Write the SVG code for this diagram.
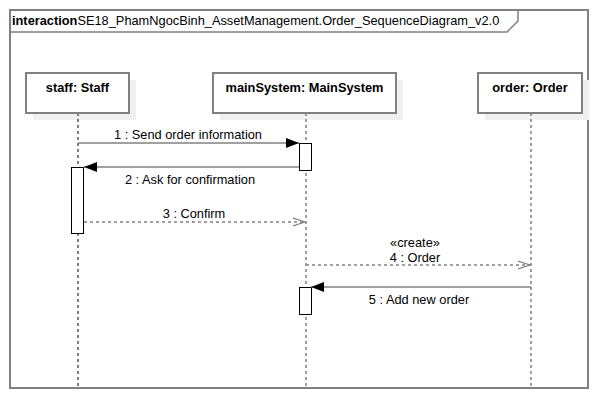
<svg xmlns="http://www.w3.org/2000/svg" width="599" height="400" viewBox="0 0 599 400">
<style>
text{font-family:"Liberation Sans",Arial,sans-serif;font-size:12.8px;fill:#000}
.b{font-weight:bold}
.box{fill:#fff;stroke:#808080;stroke-width:2}
.sh{fill:#f0f0f0}
.act{fill:#fff;stroke:#000;stroke-width:1}
.ll{stroke:#808080;stroke-width:1.5;stroke-dasharray:3,3}
.msg{stroke:#808080;stroke-width:1.5;fill:none}
.ret{stroke:#808080;stroke-width:1.5;fill:none;stroke-dasharray:3,3}
</style>
<defs>
<marker id="fill" markerWidth="14" markerHeight="10" refX="13" refY="5" orient="auto" markerUnits="userSpaceOnUse"><path d="M0,0L13,5L0,10Z" fill="#000"/></marker>
<marker id="open" markerWidth="14" markerHeight="10" refX="12" refY="5" orient="auto" markerUnits="userSpaceOnUse"><path d="M0,1L12,5L0,9" fill="none" stroke="#808080" stroke-width="1.2"/></marker>
</defs>
<rect x="0" y="0" width="599" height="400" fill="#fff"/>
<g id="frame">
<rect x="10" y="10" width="578" height="378" fill="none" stroke="#808080" stroke-width="2"/>
<path d="M10,32H507L518,21V10" fill="none" stroke="#808080" stroke-width="1.5"/>
<text x="12" y="25"><tspan class="b">interaction</tspan>SE18_PhamNgocBinh_AssetManagement.Order_SequenceDiagram_v2.0</text>
</g>
<g id="staff">
<rect class="sh" x="33" y="80" width="103" height="40"/>
<line x1="78" y1="113" x2="78" y2="388" stroke="#000" stroke-width="1" stroke-dasharray="3,3"/>
<rect class="box" x="26" y="73" width="103" height="40"/>
<text class="b" x="77.5" y="92" text-anchor="middle">staff: Staff</text>
<rect class="act" x="71.5" y="167.5" width="12" height="66"/>
</g>
<g id="mainSystem">
<rect class="sh" x="220" y="80" width="183" height="40"/>
<line class="ll" x1="306" y1="113" x2="306" y2="388"/>
<rect class="box" x="213" y="73" width="183" height="40"/>
<text class="b" x="304.5" y="92" text-anchor="middle">mainSystem: MainSystem</text>
<rect class="act" x="299.5" y="143.5" width="12" height="27"/>
<rect class="act" x="299.5" y="287.5" width="12" height="27"/>
</g>
<g id="order">
<rect class="sh" x="485" y="80" width="104" height="40"/>
<line class="ll" x1="531" y1="113" x2="531" y2="388"/>
<rect class="box" x="478" y="73" width="104" height="40"/>
<text class="b" x="530" y="92" text-anchor="middle">order: Order</text>
</g>
<g id="connectors">
<line class="msg" x1="78" y1="143" x2="299" y2="143" marker-end="url(#fill)"/>
<text x="188" y="139" text-anchor="middle">1 : Send order information</text>
<line class="msg" x1="299" y1="167" x2="84" y2="167" marker-end="url(#fill)"/>
<text x="190" y="184" text-anchor="middle">2 : Ask for confirmation</text>
<line class="ret" x1="84" y1="222" x2="305" y2="222" marker-end="url(#open)"/>
<text x="194" y="218" text-anchor="middle">3 : Confirm</text>
<line class="ret" x1="306" y1="265" x2="530" y2="265" marker-end="url(#open)"/>
<text x="415" y="247" text-anchor="middle">«create»</text>
<text x="415" y="262" text-anchor="middle">4 : Order</text>
<line class="msg" x1="531" y1="287" x2="311" y2="287" marker-end="url(#fill)"/>
<text x="419" y="304" text-anchor="middle">5 : Add new order</text>
</g>
</svg>
